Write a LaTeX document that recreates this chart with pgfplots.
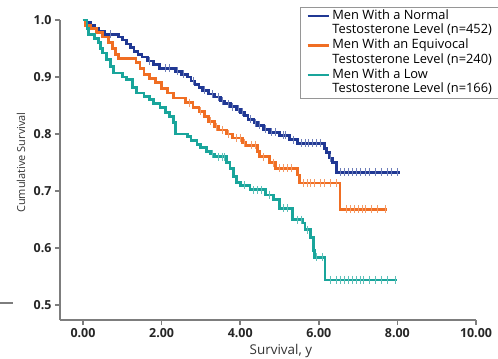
\documentclass[border=0pt]{standalone}
\usepackage{fontspec}
\setmainfont{Open Sans}
\usepackage{pgfplots}
\pgfplotsset{compat=1.18}
\definecolor{cblue}{RGB}{32,56,148}
\definecolor{corange}{RGB}{240,110,35}
\definecolor{cteal}{RGB}{25,165,155}
\definecolor{axgray}{RGB}{125,125,125}
\definecolor{leggray}{RGB}{150,150,150}
\begin{document}
\begin{tikzpicture}
\useasboundingbox (-60bp,-39bp) rectangle (438bp,320bp);
\begin{axis}[
  scale only axis, width=416bp, height=300bp,
  xmin=-0.585, xmax=10, ymin=0.4737, ymax=1.0,
  clip=false,
  axis x line*=bottom, axis y line*=left,
  axis line style={axgray, line width=2bp, -},
  tick style={axgray, line width=1.6bp},
  tick align=outside, major tick length=5bp,
  xtick={0,2,4,6,8,10}, xticklabels={0.00,2.00,4.00,6.00,8.00,10.00},
  ytick={0.5,0.6,0.7,0.8,0.9,1.0}, yticklabels={0.5,0.6,0.7,0.8,0.9,1.0},
  ticklabel style={font=\bfseries\fontsize{12.5}{14}\selectfont, text=black!85},
  xlabel={Survival, y}, ylabel={Cumulative Survival},
  xlabel style={font=\fontsize{13.5}{15}\selectfont, text=black!80, at={(axis description cs:0.531,-0.103)}, anchor=center},
  ylabel style={font=\fontsize{11}{13}\selectfont, text=black!80, at={(axis description cs:-0.0938,0.525)}, anchor=center},
  legend cell align=left,
  legend image code/.code={\draw[#1, line width=2.4bp] (0bp,0bp) -- (21bp,0bp);},
  legend style={at={(0.577,0.737)}, anchor=south west, draw=leggray, line width=0.8bp,
    font=\fontsize{12.9}{14.7}\selectfont, inner xsep=6bp, inner ysep=1.5bp,
    row sep=0pt, column sep=0pt,
    nodes={inner ysep=0pt, inner xsep=2.5bp, text height=10.5bp, text depth=4.2bp}},
]
% Normal
\addplot[cblue, line width=2.8bp, const plot] coordinates {
(0,1.0)(0.1,0.995)(0.2,0.99)(0.3,0.985)(0.4,0.98)(0.55,0.975)(0.9,0.97)(1.0,0.965)(1.1,0.958)(1.2,0.952)(1.3,0.945)(1.4,0.94)(1.5,0.935)(1.65,0.928)(1.8,0.922)(1.95,0.915)(2.35,0.91)(2.5,0.905)(2.65,0.9)(2.75,0.893)(2.85,0.887)(2.95,0.882)(3.05,0.877)(3.2,0.87)(3.35,0.865)(3.5,0.858)(3.6,0.853)(3.75,0.848)(3.9,0.843)(4.0,0.838)(4.1,0.832)(4.2,0.826)(4.35,0.82)(4.45,0.815)(4.6,0.808)(4.75,0.803)(5.0,0.798)(5.25,0.79)(5.45,0.784)(6.15,0.775)(6.2,0.767)(6.27,0.758)(6.35,0.75)(6.45,0.733)(8.07,0.733)};
\addlegendentry{Men With a Normal}
\addlegendimage{empty legend}\addlegendentry{Testosterone Level (n=452)}
% Equivocal
\addplot[corange, line width=2.8bp, const plot] coordinates {
(0,1.0)(0.05,0.99)(0.2,0.985)(0.35,0.978)(0.5,0.97)(0.65,0.96)(0.75,0.95)(0.82,0.94)(0.9,0.933)(1.35,0.925)(1.45,0.915)(1.55,0.905)(1.7,0.897)(1.85,0.89)(2.0,0.88)(2.15,0.872)(2.3,0.863)(2.6,0.855)(2.8,0.847)(2.95,0.84)(3.1,0.83)(3.2,0.822)(3.35,0.813)(3.45,0.807)(3.65,0.8)(3.8,0.793)(4.05,0.785)(4.15,0.78)(4.45,0.77)(4.5,0.76)(4.75,0.75)(4.9,0.74)(5.45,0.728)(5.5,0.714)(6.54,0.668)(7.74,0.668)};
\addlegendentry{Men With an Equivocal}
\addlegendimage{empty legend}\addlegendentry{Testosterone Level (n=240)}
% Low
\addplot[cteal, line width=2.8bp, const plot] coordinates {
(0,1.0)(0.1,0.985)(0.15,0.975)(0.3,0.968)(0.4,0.96)(0.45,0.95)(0.5,0.942)(0.6,0.93)(0.7,0.918)(0.77,0.907)(1.0,0.9)(1.1,0.895)(1.25,0.882)(1.37,0.872)(1.55,0.866)(1.7,0.86)(1.8,0.853)(1.96,0.847)(2.1,0.838)(2.2,0.83)(2.3,0.82)(2.35,0.8)(2.65,0.795)(2.75,0.788)(2.9,0.782)(3.0,0.777)(3.15,0.77)(3.25,0.765)(3.35,0.76)(3.66,0.75)(3.74,0.74)(3.82,0.725)(3.9,0.715)(4.0,0.71)(4.25,0.702)(4.65,0.693)(4.85,0.685)(5.0,0.67)(5.33,0.65)(5.6,0.644)(5.65,0.632)(5.78,0.618)(5.86,0.596)(5.9,0.584)(6.16,0.544)(8.0,0.544)};
\addlegendentry{Men With a Low}
\addlegendimage{empty legend}\addlegendentry{Testosterone Level (n=166)}
% censor marks
\addplot[forget plot, only marks, mark=|, mark size=4bp, cblue!65, mark options={line width=1bp}] coordinates {
(0.7,0.975)(1.7,0.928)(2.1,0.915)(2.2,0.915)(2.4,0.91)(2.55,0.905)(2.8,0.893)(3.1,0.877)(3.3,0.87)(3.45,0.865)(3.55,0.858)(3.7,0.853)(3.8,0.848)(3.95,0.843)(4.05,0.838)(4.25,0.826)(4.4,0.82)(4.5,0.815)(4.65,0.808)(4.8,0.803)(4.9,0.803)(5.1,0.798)(5.15,0.798)(5.35,0.79)(5.55,0.784)(5.65,0.784)(5.75,0.784)(5.85,0.784)(5.95,0.784)(6.05,0.784)(6.3,0.758)(6.55,0.733)(6.65,0.733)(6.75,0.733)(6.85,0.733)(6.95,0.733)(7.05,0.733)(7.2,0.733)(7.3,0.733)(7.45,0.733)(7.6,0.733)(7.75,0.733)(7.85,0.733)(8.0,0.733)};
\addplot[forget plot, only marks, mark=|, mark size=4bp, corange!70, mark options={line width=1bp}] coordinates {
(2.7,0.855)(3.0,0.84)(3.25,0.822)(3.4,0.813)(3.55,0.807)(3.7,0.8)(3.9,0.793)(4.0,0.793)(4.1,0.785)(4.3,0.78)(4.4,0.78)(4.6,0.76)(4.85,0.75)(5.0,0.74)(5.1,0.74)(5.2,0.74)(5.3,0.74)(5.6,0.714)(5.7,0.714)(5.8,0.714)(5.9,0.714)(6.05,0.714)(6.15,0.714)(6.3,0.714)(6.45,0.714)(6.7,0.668)(6.8,0.668)(6.9,0.668)(7.0,0.668)(7.1,0.668)(7.2,0.668)(7.35,0.668)(7.5,0.668)(7.7,0.668)};
\addplot[forget plot, only marks, mark=|, mark size=4bp, cteal!70, mark options={line width=1bp}] coordinates {
(3.3,0.765)(3.45,0.76)(3.55,0.76)(3.6,0.76)(4.1,0.71)(4.35,0.702)(4.45,0.702)(4.55,0.702)(4.75,0.693)(5.1,0.67)(5.2,0.67)(5.45,0.65)(5.55,0.65)(5.7,0.632)(5.95,0.584)(6.1,0.584)(6.3,0.544)(6.45,0.544)(6.55,0.544)(6.65,0.544)(6.75,0.544)(6.85,0.544)(6.95,0.544)(7.05,0.544)(7.15,0.544)(7.3,0.544)(7.45,0.544)(7.6,0.544)(7.75,0.544)(7.95,0.544)};
\end{axis}
\draw[axgray, line width=2bp] (-60bp,17.3bp) -- (-47bp,17.3bp);
\end{tikzpicture}
\end{document}
